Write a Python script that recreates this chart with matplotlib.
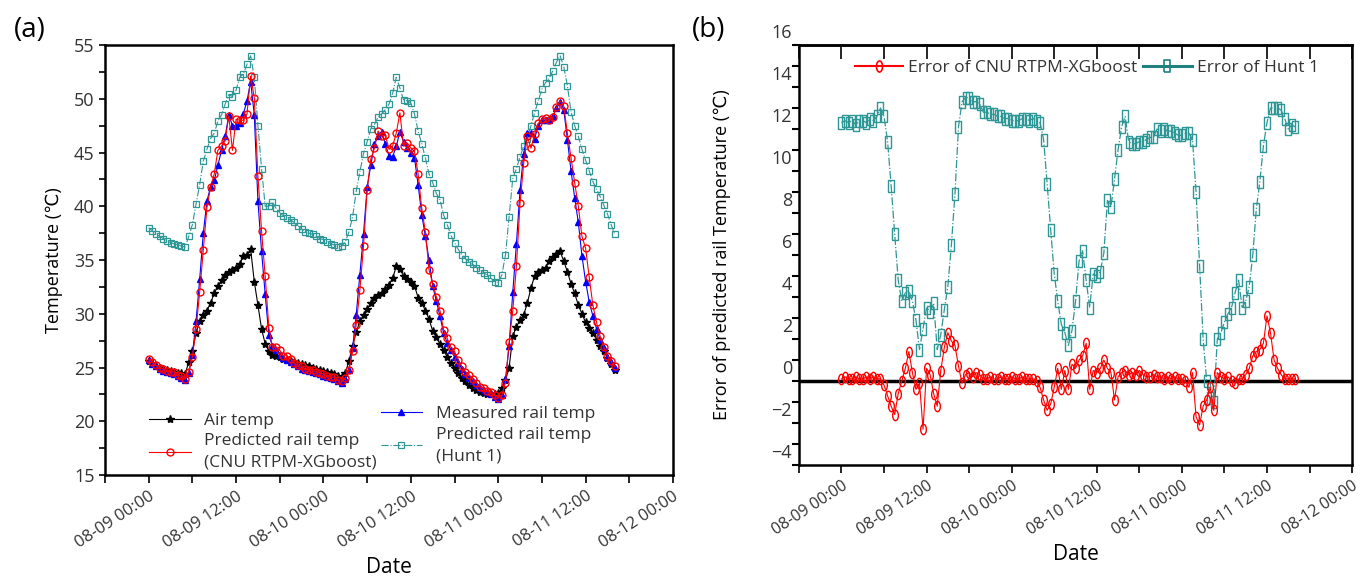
import numpy as np
import pandas as pd
import matplotlib
matplotlib.use('Agg')
import matplotlib.pyplot as plt
import matplotlib.dates as mdates
from matplotlib.lines import Line2D
from matplotlib.transforms import ScaledTranslation, blended_transform_factory

plt.rcParams['font.family'] = ['Open Sans', 'DejaVu Sans']

# half-hourly readings from 08-09 00:00 to 08-11 16:00
times = pd.date_range('2020-08-09 00:00', periods=129, freq='30min')

air_temp = [
    25.6, 25.3, 25.1, 25.0, 24.9, 24.8, 24.7, 24.6, 24.5, 24.5,
    24.4, 25.5, 26.5, 28.2, 29.3, 29.9, 30.3, 31.0, 31.9, 32.6,
    33.1, 33.6, 33.9, 34.1, 34.3, 34.6, 35.4, 35.5, 36.0, 33.0,
    30.8, 28.6, 27.2, 26.5, 26.2, 26.1, 26.0, 25.8, 25.7, 25.6,
    25.5, 25.4, 25.3, 25.2, 25.1, 25.0, 24.9, 24.8, 24.7, 24.6,
    24.5, 24.4, 24.2, 24.1, 24.5, 25.6, 27.0, 28.3, 29.3, 29.9,
    30.4, 31.0, 31.5, 31.7, 31.9, 32.3, 32.7, 33.3, 34.4, 34.2,
    33.5, 33.2, 33.0, 32.6, 31.5, 31.0, 30.3, 29.5, 28.4, 27.8,
    27.2, 26.6, 26.0, 25.4, 25.0, 24.5, 24.0, 23.7, 23.4, 23.1,
    22.9, 22.7, 22.6, 22.5, 22.5, 22.5, 22.6, 23.1, 23.8, 25.0,
    27.9, 28.8, 29.4, 29.9, 31.0, 32.4, 33.5, 33.9, 34.1, 34.3,
    34.9, 35.3, 35.6, 35.8, 34.9, 33.9, 32.8, 31.9, 30.8, 30.0,
    29.2, 28.7, 28.2, 27.6, 27.0, 26.5, 25.9, 25.3, 24.8]

measured = [
    25.7, 25.3, 25.1, 24.9, 24.7, 24.6, 24.5, 24.4, 24.2, 24.0,
    23.8, 24.5, 26.2, 29.3, 33.2, 37.5, 40.5, 41.8, 42.4, 43.8,
    45.2, 46.5, 48.5, 47.5, 47.5, 47.7, 48.6, 49.8, 51.6, 48.5,
    40.5, 35.8, 31.8, 28.0, 27.0, 26.6, 26.2, 25.9, 25.7, 25.5,
    25.3, 25.1, 24.9, 24.8, 24.7, 24.6, 24.5, 24.4, 24.2, 24.1,
    24.0, 23.9, 23.7, 23.6, 23.9, 24.8, 26.8, 29.9, 33.6, 37.4,
    41.8, 43.8, 45.8, 46.5, 46.9, 45.8, 44.7, 44.6, 45.6, 46.9,
    46.0, 45.4, 45.0, 44.5, 42.0, 39.2, 37.2, 35.0, 32.6, 31.2,
    29.8, 28.2, 27.3, 26.6, 26.0, 25.4, 24.9, 24.4, 24.0, 23.7,
    23.4, 23.1, 22.9, 22.7, 22.5, 22.3, 22.1, 22.4, 23.9, 27.0,
    32.0, 36.5, 41.5, 44.9, 46.8, 46.8, 46.3, 47.5, 48.0, 48.0,
    48.0, 48.4, 49.1, 49.7, 49.0, 46.2, 43.3, 40.8, 38.5, 35.4,
    33.0, 31.1, 29.8, 28.6, 27.6, 26.8, 26.0, 25.5, 25.0]

hunt = [
    38.0, 37.7, 37.4, 37.2, 37.0, 36.8, 36.6, 36.5, 36.4, 36.3,
    36.2, 37.2, 38.3, 40.2, 42.0, 44.2, 45.3, 46.3, 46.8, 47.9,
    48.5, 49.5, 50.4, 50.2, 50.8, 52.0, 52.3, 53.2, 54.0, 52.0,
    47.5, 43.5, 40.0, 40.0, 40.4, 39.8, 39.4, 39.1, 38.9, 38.7,
    38.5, 38.2, 37.9, 37.6, 37.5, 37.4, 37.2, 37.0, 36.9, 36.7,
    36.5, 36.4, 36.2, 36.3, 36.7, 37.6, 39.0, 41.4, 43.2, 44.9,
    46.0, 47.2, 47.6, 48.3, 48.6, 49.0, 49.5, 50.5, 52.0, 51.0,
    49.9, 49.8, 49.6, 48.6, 47.0, 45.8, 44.5, 43.0, 42.2, 41.2,
    40.6, 39.2, 38.3, 37.3, 36.6, 36.0, 35.5, 35.1, 34.8, 34.6,
    34.3, 34.1, 33.8, 33.6, 33.3, 33.0, 32.9, 33.6, 35.5, 39.0,
    42.6, 43.5, 44.6, 45.6, 46.3, 47.5, 48.7, 49.8, 50.9, 51.5,
    51.9, 52.6, 53.4, 54.0, 53.0, 51.2, 48.8, 47.5, 46.5, 45.3,
    44.3, 43.3, 42.3, 41.6, 40.9, 40.1, 39.3, 38.3, 37.4]

hunt_err = [
    12.3, 12.4, 12.3, 12.4, 12.2, 12.4, 12.4, 12.3, 12.5, 12.4,
    12.6, 13.0, 12.6, 11.4, 9.3, 7.0, 4.8, 3.8, 4.2, 4.3,
    3.8, 2.9, 1.5, 2.5, 3.5, 3.3, 3.7, 1.5, 2.2, 3.4,
    4.5, 6.5, 8.9, 12.1, 13.3, 13.5, 13.5, 13.3, 13.3, 13.2,
    12.8, 12.8, 12.7, 12.7, 12.6, 12.6, 12.5, 12.5, 12.4, 12.4,
    12.4, 12.5, 12.5, 12.4, 12.5, 12.4, 12.3, 11.5, 9.4, 7.2,
    5.1, 3.8, 2.7, 2.3, 1.7, 2.4, 3.8, 5.7, 6.2, 4.8,
    3.5, 5.1, 5.0, 5.2, 6.1, 8.6, 8.3, 9.6, 11.0, 12.1,
    12.6, 11.4, 11.3, 11.3, 11.4, 11.4, 11.5, 11.6, 11.6, 12.0,
    11.9, 12.0, 11.9, 11.9, 11.8, 11.7, 11.7, 11.8, 11.8, 11.5,
    9.0, 5.5, 2.0, 0.0, -0.8, -1.0, 2.0, 2.3, 2.8, 3.2,
    3.5, 4.2, 4.8, 3.5, 3.8, 4.5, 6.0, 8.2, 9.5, 11.2,
    12.3, 13.0, 13.0, 13.0, 12.9, 12.5, 12.0, 12.2, 12.1]

cnu_err = [
    0.1, 0.2, 0.1, 0.1, 0.2, 0.1, 0.1, 0.2, 0.1, 0.2,
    0.1, 0.1, -0.2, -0.7, -1.2, -1.6, -0.6, 0.0, 0.6, 1.4,
    0.4, -0.4, -0.1, -2.3, 0.6, 0.3, -0.6, -1.2, 0.5, 1.6,
    2.3, 1.9, 1.7, 0.7, -0.1, 0.3, 0.4, 0.2, 0.4, 0.3,
    0.1, 0.1, 0.2, 0.1, 0.1, 0.2, 0.1, 0.1, 0.2, 0.1,
    0.1, 0.2, 0.1, 0.1, 0.1, 0.0, -0.3, -0.9, -1.4, -1.1,
    -0.3, 0.6, -0.4, 0.5, -0.4, 0.8, 0.6, 1.0, 1.2, 1.8,
    -0.4, 0.5, 0.4, 0.6, 1.0, 0.6, 0.4, -0.9, 0.2, 0.4,
    0.5, 0.3, 0.4, 0.3, 0.5, 0.3, 0.2, 0.2, 0.3, 0.2,
    0.2, 0.1, 0.2, 0.1, 0.2, 0.1, 0.1, 0.0, -0.3, 0.4,
    -1.7, -2.1, -1.2, -0.9, -0.3, -1.4, 0.4, 0.2, 0.1, 0.2,
    0.0, -0.1, 0.1, 0.1, 0.3, 0.6, 1.2, 1.4, 1.5, 1.8,
    3.1, 2.3, 1.0, 0.6, 0.3, 0.1, 0.1, 0.1, 0.1]

# CNU prediction = measured + its error
predicted = np.array(measured) + np.array(cnu_err)

TEAL = '#2f9696'
TICK_C = '#333333'

fig = plt.figure(figsize=(13.62, 5.83), dpi=100)
ax1 = fig.add_axes([0.0771, 0.1852, 0.4170, 0.7376])
ax2 = fig.add_axes([0.5866, 0.2024, 0.4061, 0.7204])

x0 = pd.Timestamp('2020-08-08 18:00')
x1 = pd.Timestamp('2020-08-12 00:00')


def style_time_axis(ax, size):
    ax.set_xlim(x0, x1)
    ax.xaxis.set_major_locator(mdates.HourLocator(byhour=[0, 12]))
    ax.xaxis.set_minor_locator(mdates.HourLocator(byhour=[6, 18]))
    ax.xaxis.set_major_formatter(mdates.DateFormatter('%m-%d %H:%M'))
    for lbl in ax.get_xticklabels():
        lbl.set_rotation(33)
        lbl.set_ha('right')
        lbl.set_rotation_mode('anchor')
    ax.tick_params(axis='x', which='both', direction='out', length=6, width=1.2,
                   labelsize=size, labelcolor=TICK_C)
    ax.set_xlabel('Date', fontsize=15, labelpad=4)
    for s in ax.spines.values():
        s.set_linewidth(1.8)


# ---------- (a) temperatures ----------
ax1.plot(times, hunt, color=TEAL, ls='-.', lw=0.8, marker='s', ms=5,
         mfc='none', mew=0.9, label='Predicted rail temp\n(Hunt 1)')
ax1.plot(times, air_temp, color='black', lw=0.8, marker='*', ms=6,
         label='Air temp')
ax1.plot(times, measured, color='blue', lw=0.8, marker='^', ms=5,
         label='Measured rail temp')
ax1.plot(times, predicted, color='red', lw=0.8, marker='o', ms=5,
         mfc='none', mew=1.0, label='Predicted rail temp\n(CNU RTPM-XGboost)')

ax1.set_ylim(15, 55)
ax1.set_yticks(np.arange(15, 56, 5))
ax1.set_yticks(np.arange(15, 55, 2.5), minor=True)
ax1.tick_params(axis='y', which='both', direction='out', length=4, width=1.2,
                labelsize=13, labelcolor=TICK_C)
ax1.set_ylabel('Temperature (℃)', fontsize=13, labelpad=8)
style_time_axis(ax1, 12)

h, l = ax1.get_legend_handles_labels()
leg_a = ax1.legend([h[1], h[3]], [l[1], l[3]], loc='lower left',
                   bbox_to_anchor=(0.062, -0.01), frameon=False, fontsize=12.5,
                   handlelength=2.4, handletextpad=0.8, labelspacing=0.25,
                   borderpad=0, labelcolor=TICK_C)
for t in leg_a.get_texts():
    t.set_linespacing(1.45)
ax1.add_artist(leg_a)
leg_b = ax1.legend([h[2], h[0]], [l[2], l[0]], loc='lower left',
                   bbox_to_anchor=(0.47, 0.005), frameon=False, fontsize=12.5,
                   handlelength=2.4, handletextpad=0.8, labelspacing=0.25,
                   borderpad=0, labelcolor=TICK_C)
for t in leg_b.get_texts():
    t.set_linespacing(1.45)

fig.text(0.022, 0.948, '(a)', fontsize=20, va='center', ha='center')

# ---------- (b) errors ----------
theta = np.linspace(0, 2 * np.pi, 25)
ellipse = list(zip(0.55 * np.cos(theta), np.sin(theta)))
rect = [(-0.5, -1), (0.5, -1), (0.5, 1), (-0.5, 1), (-0.5, -1)]

ax2.axhline(0, color='black', lw=2.5, zorder=1)
ax2.plot(times, hunt_err, color=TEAL, ls='-.', lw=0.9, marker=rect, ms=9,
         mfc='none', mew=1.0, zorder=2)
ax2.plot(times, cnu_err, color='red', lw=0.8, marker=ellipse, ms=7.5,
         mfc='none', mew=1.0, zorder=3)

ax2.set_ylim(-4, 16)
ax2.set_yticks(np.arange(-4, 17, 1))
ax2.tick_params(axis='y', which='both', direction='out', length=5, width=1.5,
                labelleft=False)
# tick labels in the source sit a little above their ticks
lab_tr = blended_transform_factory(ax2.transAxes, ax2.transData) + \
    ScaledTranslation(-0.07, 0.12, fig.dpi_scale_trans)
for v in range(-4, 17, 2):
    ax2.text(0, v, str(v).replace('-', '\u2212'), transform=lab_tr, ha='right',
             va='center', fontsize=13, color=TICK_C, clip_on=False)
ax2.set_ylabel('Error of predicted rail Temperature (℃)', fontsize=13, labelpad=44)
style_time_axis(ax2, 11.5)

sec = ax2.secondary_xaxis('top')
sec.xaxis.set_major_locator(mdates.HourLocator(byhour=[0, 6, 12, 18]))
sec.tick_params(axis='x', direction='in', length=10, width=1.2, labeltop=False)
sec.spines['top'].set_linewidth(1.8)

leg_handles = [
    Line2D([], [], color='red', lw=1.5, marker=ellipse, ms=8, mfc='none', mew=1.2),
    Line2D([], [], color='#1f8080', lw=2.2, marker=rect, ms=9, mfc='none', mew=1.2),
]
ax2.legend(leg_handles, ['Error of CNU RTPM-XGboost', 'Error of Hunt 1'],
           loc='upper left', bbox_to_anchor=(0.085, 0.985), ncol=2,
           frameon=False, fontsize=12.5, handlelength=2.8, handletextpad=0.3,
           columnspacing=0.3, borderpad=0, labelcolor=TICK_C)

fig.text(0.52, 0.948, '(b)', fontsize=20, va='center', ha='center')

fig.savefig('out.png', dpi=100)
